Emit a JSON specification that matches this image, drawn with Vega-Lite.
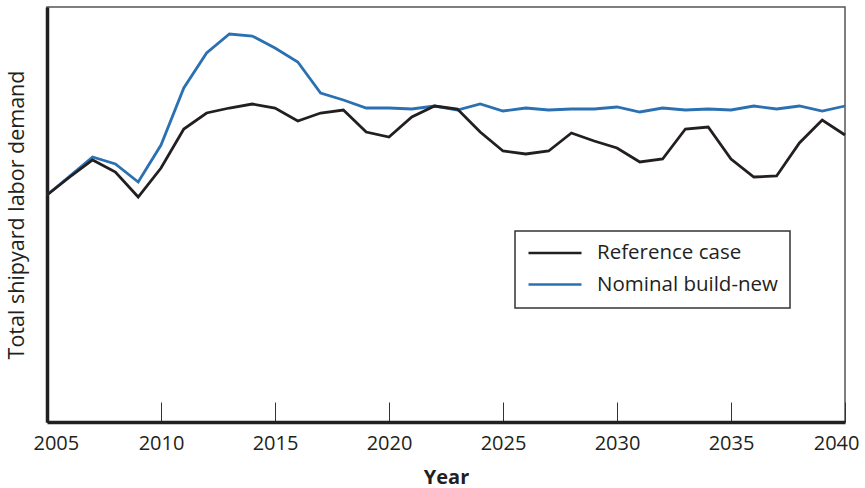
{
  "$schema": "https://vega.github.io/schema/vega-lite/v6.json",
  "width": 798,
  "height": 415,
  "autosize": {"type": "none"},
  "padding": {"left": 47, "top": 7, "right": 20, "bottom": 66},
  "background": "white",
  "config": {
    "font": "Open Sans",
    "view": {"stroke": "#555555", "strokeWidth": 1.5},
    "axis": {"grid": false, "domainColor": "#231f20", "domainWidth": 3.5, "labelColor": "#231f20", "titleColor": "#231f20"}
  },
  "data": {
    "values": [
      {"year": 2005, "series": "Nominal build-new", "value": 227},
      {"year": 2006, "series": "Nominal build-new", "value": 246},
      {"year": 2007, "series": "Nominal build-new", "value": 265},
      {"year": 2008, "series": "Nominal build-new", "value": 258},
      {"year": 2009, "series": "Nominal build-new", "value": 240},
      {"year": 2010, "series": "Nominal build-new", "value": 277},
      {"year": 2011, "series": "Nominal build-new", "value": 334},
      {"year": 2012, "series": "Nominal build-new", "value": 369},
      {"year": 2013, "series": "Nominal build-new", "value": 388},
      {"year": 2014, "series": "Nominal build-new", "value": 386},
      {"year": 2015, "series": "Nominal build-new", "value": 374},
      {"year": 2016, "series": "Nominal build-new", "value": 360},
      {"year": 2017, "series": "Nominal build-new", "value": 329},
      {"year": 2018, "series": "Nominal build-new", "value": 322},
      {"year": 2019, "series": "Nominal build-new", "value": 314},
      {"year": 2020, "series": "Nominal build-new", "value": 314},
      {"year": 2021, "series": "Nominal build-new", "value": 313},
      {"year": 2022, "series": "Nominal build-new", "value": 316},
      {"year": 2023, "series": "Nominal build-new", "value": 312},
      {"year": 2024, "series": "Nominal build-new", "value": 318},
      {"year": 2025, "series": "Nominal build-new", "value": 311},
      {"year": 2026, "series": "Nominal build-new", "value": 314},
      {"year": 2027, "series": "Nominal build-new", "value": 312},
      {"year": 2028, "series": "Nominal build-new", "value": 313},
      {"year": 2029, "series": "Nominal build-new", "value": 313},
      {"year": 2030, "series": "Nominal build-new", "value": 315},
      {"year": 2031, "series": "Nominal build-new", "value": 310},
      {"year": 2032, "series": "Nominal build-new", "value": 314},
      {"year": 2033, "series": "Nominal build-new", "value": 312},
      {"year": 2034, "series": "Nominal build-new", "value": 313},
      {"year": 2035, "series": "Nominal build-new", "value": 312},
      {"year": 2036, "series": "Nominal build-new", "value": 316},
      {"year": 2037, "series": "Nominal build-new", "value": 313},
      {"year": 2038, "series": "Nominal build-new", "value": 316},
      {"year": 2039, "series": "Nominal build-new", "value": 311},
      {"year": 2040, "series": "Nominal build-new", "value": 316},
      {"year": 2005, "series": "Reference case", "value": 227},
      {"year": 2006, "series": "Reference case", "value": 245},
      {"year": 2007, "series": "Reference case", "value": 262},
      {"year": 2008, "series": "Reference case", "value": 250},
      {"year": 2009, "series": "Reference case", "value": 225},
      {"year": 2010, "series": "Reference case", "value": 254},
      {"year": 2011, "series": "Reference case", "value": 293},
      {"year": 2012, "series": "Reference case", "value": 309},
      {"year": 2013, "series": "Reference case", "value": 314},
      {"year": 2014, "series": "Reference case", "value": 318},
      {"year": 2015, "series": "Reference case", "value": 314},
      {"year": 2016, "series": "Reference case", "value": 301},
      {"year": 2017, "series": "Reference case", "value": 309},
      {"year": 2018, "series": "Reference case", "value": 312},
      {"year": 2019, "series": "Reference case", "value": 290},
      {"year": 2020, "series": "Reference case", "value": 285},
      {"year": 2021, "series": "Reference case", "value": 305},
      {"year": 2022, "series": "Reference case", "value": 316},
      {"year": 2023, "series": "Reference case", "value": 313},
      {"year": 2024, "series": "Reference case", "value": 290},
      {"year": 2025, "series": "Reference case", "value": 271},
      {"year": 2026, "series": "Reference case", "value": 268},
      {"year": 2027, "series": "Reference case", "value": 271},
      {"year": 2028, "series": "Reference case", "value": 289},
      {"year": 2029, "series": "Reference case", "value": 281},
      {"year": 2030, "series": "Reference case", "value": 274},
      {"year": 2031, "series": "Reference case", "value": 260},
      {"year": 2032, "series": "Reference case", "value": 263},
      {"year": 2033, "series": "Reference case", "value": 293},
      {"year": 2034, "series": "Reference case", "value": 295},
      {"year": 2035, "series": "Reference case", "value": 263},
      {"year": 2036, "series": "Reference case", "value": 245},
      {"year": 2037, "series": "Reference case", "value": 246},
      {"year": 2038, "series": "Reference case", "value": 279},
      {"year": 2039, "series": "Reference case", "value": 302},
      {"year": 2040, "series": "Reference case", "value": 287}
    ]
  },
  "mark": {"type": "line", "strokeWidth": 2.8},
  "encoding": {
    "x": {
      "field": "year",
      "type": "quantitative",
      "scale": {"domain": [2005, 2040], "nice": false, "zero": false},
      "axis": {
        "title": "Year",
        "values": [2005, 2010, 2015, 2020, 2025, 2030, 2035, 2040],
        "format": "d",
        "tickSize": -20,
        "tickColor": "#333333",
        "tickWidth": 1,
        "labelFontSize": 20,
        "labelPadding": 31,
        "labelFlush": true,
        "labelFlushOffset": 14,
        "titleFontSize": 20,
        "titleFontWeight": "bold",
        "titlePadding": 14
      }
    },
    "y": {
      "field": "value",
      "type": "quantitative",
      "scale": {"domain": [0, 415], "nice": false},
      "axis": {
        "title": "Total shipyard labor demand",
        "labels": false,
        "ticks": false,
        "titleFontSize": 21.5,
        "titleFontWeight": "normal",
        "titlePadding": 19
      }
    },
    "color": {
      "field": "series",
      "type": "nominal",
      "scale": {"domain": ["Reference case", "Nominal build-new"], "range": ["#231f20", "#2b70b0"]},
      "legend": {
        "title": null,
        "orient": "none",
        "legendX": 468,
        "legendY": 224,
        "symbolType": "stroke",
        "symbolSize": 2809,
        "symbolStrokeWidth": 2.5,
        "clipHeight": 20,
        "rowPadding": 10.6,
        "labelFontSize": 20.5,
        "labelLimit": 400,
        "labelColor": "#231f20",
        "labelOffset": 14,
        "padding": 12,
        "strokeColor": "#333333",
        "fillColor": "white",
        "encode": {"legend": {"update": {"strokeWidth": {"value": 1.5}}}}
      }
    }
  }
}
